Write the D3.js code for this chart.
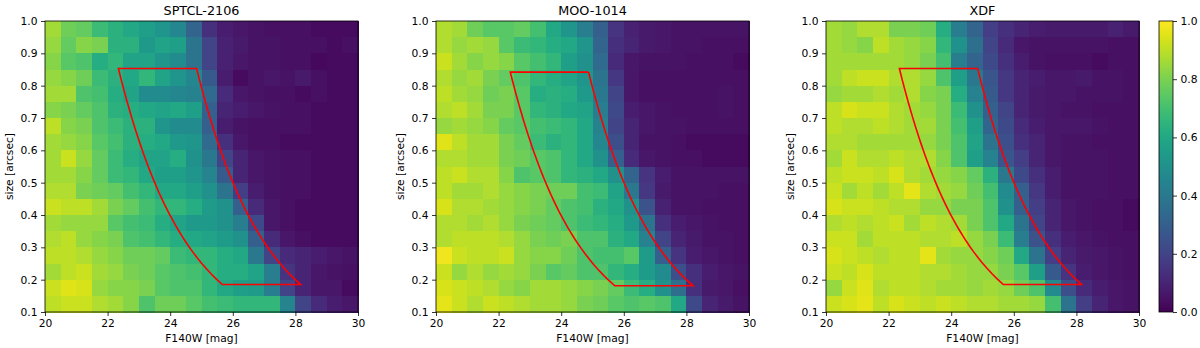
<!DOCTYPE html>
<html>
<head>
<meta charset="utf-8">
<script src="https://cdn.jsdelivr.net/npm/d3@7"></script>
<style>
body { margin: 0; background: #fff; }
svg text { font-family: "DejaVu Sans", sans-serif; fill: #000; }
.axis path { display: none; }
.axis line { stroke: #000; stroke-width: 0.8; }
.axis text { font-size: 10.7px; }
.cell { shape-rendering: crispEdges; }
</style>
</head>
<body>
<svg class="plot" width="1200" height="348"></svg>
<script>
// bin lower edges
var magBins = [20,20.5,21,21.5,22,22.5,23,23.5,24,24.5,25,25.5,26,26.5,27,27.5,28,28.5,29,29.5];
var sizeBins = [0.95,0.90,0.85,0.80,0.75,0.70,0.65,0.60,0.55,0.50,0.45,0.40,0.35,0.30,0.25,0.20,0.15,0.10];
var magStep = 0.5, sizeStep = 0.05;

var magTicks = [20,22,24,26,28,30];
var sizeTicks = [0.1,0.2,0.3,0.4,0.5,0.6,0.7,0.8,0.9,1.0];
var cbTicks = [0,0.2,0.4,0.6,0.8,1.0];

var titles = ["SPTCL-2106", "MOO-1014", "XDF"];

// completeness, rows from top (size 0.95-1.0) down to (0.10-0.15)
var sptcl = [
  [0.86,0.78,0.76,0.68,0.64,0.60,0.56,0.52,0.46,0.32,0.14,0.08,0.06,0.05,0.04,0.04,0.04,0.03,0.03,0.03],
  [0.84,0.76,0.82,0.80,0.64,0.64,0.54,0.58,0.56,0.38,0.20,0.09,0.07,0.05,0.05,0.04,0.04,0.04,0.03,0.04],
  [0.82,0.74,0.72,0.62,0.66,0.58,0.58,0.52,0.48,0.38,0.20,0.09,0.06,0.05,0.05,0.04,0.04,0.02,0.03,0.03],
  [0.84,0.82,0.78,0.68,0.64,0.60,0.66,0.58,0.52,0.46,0.28,0.08,0.03,0.05,0.06,0.05,0.07,0.04,0.03,0.03],
  [0.86,0.86,0.72,0.70,0.62,0.58,0.48,0.48,0.46,0.44,0.34,0.12,0.06,0.05,0.04,0.04,0.03,0.04,0.03,0.03],
  [0.82,0.80,0.76,0.72,0.64,0.62,0.60,0.58,0.60,0.56,0.30,0.10,0.08,0.06,0.05,0.04,0.04,0.03,0.03,0.03],
  [0.90,0.82,0.80,0.72,0.68,0.64,0.64,0.52,0.48,0.48,0.30,0.08,0.05,0.04,0.04,0.04,0.04,0.03,0.03,0.03],
  [0.86,0.84,0.82,0.74,0.70,0.64,0.62,0.60,0.54,0.52,0.34,0.14,0.06,0.04,0.04,0.03,0.03,0.03,0.03,0.03],
  [0.86,0.92,0.84,0.76,0.68,0.62,0.58,0.58,0.62,0.50,0.40,0.20,0.10,0.06,0.05,0.04,0.04,0.03,0.03,0.03],
  [0.86,0.86,0.82,0.76,0.68,0.66,0.60,0.56,0.56,0.52,0.45,0.28,0.10,0.06,0.05,0.04,0.04,0.03,0.03,0.03],
  [0.88,0.88,0.80,0.78,0.76,0.70,0.66,0.60,0.60,0.56,0.50,0.38,0.18,0.08,0.05,0.04,0.04,0.03,0.03,0.03],
  [0.92,0.90,0.90,0.86,0.80,0.76,0.70,0.66,0.66,0.62,0.55,0.50,0.30,0.12,0.06,0.04,0.03,0.03,0.03,0.03],
  [0.86,0.84,0.84,0.84,0.74,0.70,0.68,0.62,0.58,0.54,0.54,0.50,0.42,0.22,0.06,0.04,0.03,0.03,0.03,0.03],
  [0.88,0.90,0.84,0.82,0.80,0.72,0.70,0.66,0.62,0.60,0.58,0.55,0.50,0.30,0.12,0.06,0.04,0.03,0.03,0.03],
  [0.90,0.90,0.88,0.84,0.82,0.78,0.78,0.76,0.68,0.66,0.66,0.62,0.60,0.40,0.20,0.12,0.10,0.08,0.06,0.05],
  [0.86,0.90,0.92,0.86,0.84,0.80,0.78,0.74,0.72,0.70,0.66,0.62,0.62,0.58,0.42,0.15,0.10,0.06,0.05,0.04],
  [0.92,0.95,0.94,0.84,0.82,0.82,0.80,0.74,0.72,0.72,0.66,0.60,0.56,0.55,0.42,0.20,0.10,0.06,0.06,0.03],
  [0.90,0.92,0.92,0.88,0.86,0.82,0.72,0.78,0.78,0.74,0.70,0.68,0.66,0.66,0.66,0.45,0.20,0.12,0.08,0.06]
];

var moo = [
  [0.88,0.86,0.78,0.74,0.74,0.76,0.70,0.60,0.52,0.42,0.30,0.15,0.09,0.07,0.06,0.05,0.05,0.05,0.05,0.05],
  [0.88,0.84,0.86,0.84,0.74,0.68,0.66,0.62,0.60,0.52,0.32,0.14,0.10,0.07,0.06,0.05,0.05,0.04,0.04,0.04],
  [0.92,0.86,0.82,0.84,0.82,0.74,0.70,0.66,0.56,0.50,0.34,0.12,0.06,0.05,0.05,0.05,0.04,0.04,0.04,0.03],
  [0.88,0.84,0.86,0.80,0.76,0.72,0.66,0.62,0.58,0.52,0.38,0.16,0.06,0.04,0.04,0.04,0.04,0.04,0.04,0.04],
  [0.90,0.86,0.84,0.78,0.80,0.74,0.62,0.64,0.62,0.54,0.40,0.20,0.06,0.04,0.04,0.04,0.04,0.04,0.05,0.04],
  [0.88,0.90,0.86,0.80,0.80,0.74,0.66,0.64,0.60,0.58,0.42,0.22,0.08,0.06,0.05,0.04,0.04,0.04,0.05,0.04],
  [0.84,0.86,0.84,0.82,0.76,0.74,0.70,0.68,0.66,0.60,0.44,0.20,0.10,0.06,0.05,0.05,0.04,0.04,0.04,0.04],
  [0.95,0.90,0.86,0.86,0.80,0.76,0.68,0.64,0.66,0.60,0.46,0.24,0.10,0.05,0.05,0.04,0.03,0.03,0.03,0.03],
  [0.88,0.88,0.86,0.86,0.80,0.78,0.74,0.72,0.66,0.60,0.50,0.30,0.12,0.06,0.05,0.04,0.04,0.03,0.03,0.03],
  [0.90,0.92,0.88,0.88,0.82,0.72,0.74,0.72,0.66,0.64,0.60,0.50,0.32,0.15,0.08,0.05,0.05,0.05,0.05,0.05],
  [0.90,0.86,0.86,0.88,0.84,0.82,0.80,0.78,0.78,0.70,0.68,0.58,0.40,0.16,0.07,0.05,0.05,0.05,0.04,0.04],
  [0.94,0.88,0.88,0.86,0.84,0.82,0.80,0.76,0.72,0.70,0.64,0.60,0.50,0.25,0.09,0.05,0.05,0.04,0.04,0.04],
  [0.88,0.88,0.86,0.88,0.84,0.80,0.78,0.76,0.72,0.68,0.66,0.62,0.54,0.38,0.14,0.08,0.06,0.05,0.04,0.04],
  [0.88,0.90,0.90,0.90,0.88,0.84,0.80,0.78,0.80,0.72,0.72,0.64,0.60,0.44,0.20,0.10,0.07,0.05,0.05,0.04],
  [0.98,0.92,0.90,0.90,0.92,0.84,0.82,0.82,0.78,0.72,0.70,0.70,0.74,0.55,0.30,0.15,0.08,0.06,0.05,0.04],
  [0.92,0.84,0.88,0.84,0.86,0.84,0.80,0.74,0.76,0.72,0.72,0.66,0.62,0.55,0.48,0.24,0.14,0.08,0.06,0.05],
  [0.94,0.92,0.90,0.88,0.84,0.82,0.86,0.86,0.84,0.82,0.80,0.76,0.68,0.62,0.50,0.36,0.14,0.07,0.06,0.04],
  [0.96,0.92,0.88,0.92,0.90,0.88,0.86,0.86,0.84,0.80,0.78,0.74,0.72,0.74,0.72,0.60,0.22,0.10,0.07,0.05]
];

var xdf = [
  [0.86,0.84,0.88,0.88,0.80,0.80,0.78,0.62,0.42,0.32,0.18,0.14,0.10,0.08,0.07,0.07,0.07,0.07,0.09,0.07],
  [0.86,0.84,0.82,0.90,0.86,0.84,0.82,0.66,0.50,0.36,0.20,0.12,0.06,0.05,0.05,0.05,0.05,0.05,0.04,0.04],
  [0.86,0.86,0.86,0.86,0.86,0.84,0.80,0.70,0.42,0.32,0.22,0.14,0.08,0.05,0.04,0.04,0.04,0.03,0.04,0.04],
  [0.86,0.90,0.92,0.92,0.88,0.88,0.84,0.72,0.56,0.40,0.26,0.16,0.10,0.08,0.06,0.06,0.07,0.05,0.05,0.04],
  [0.84,0.86,0.86,0.88,0.86,0.88,0.82,0.80,0.62,0.44,0.28,0.16,0.10,0.07,0.06,0.06,0.05,0.05,0.05,0.04],
  [0.90,0.94,0.92,0.92,0.88,0.86,0.84,0.80,0.68,0.50,0.30,0.20,0.10,0.07,0.06,0.05,0.05,0.04,0.04,0.04],
  [0.90,0.88,0.88,0.90,0.88,0.86,0.86,0.80,0.70,0.56,0.32,0.22,0.12,0.08,0.06,0.06,0.06,0.05,0.04,0.04],
  [0.88,0.88,0.86,0.86,0.86,0.86,0.84,0.80,0.72,0.58,0.38,0.24,0.14,0.10,0.06,0.05,0.05,0.04,0.04,0.04],
  [0.86,0.92,0.88,0.88,0.90,0.88,0.88,0.82,0.72,0.56,0.44,0.26,0.18,0.10,0.06,0.05,0.05,0.05,0.04,0.04],
  [0.90,0.92,0.92,0.90,0.94,0.88,0.86,0.84,0.82,0.76,0.64,0.40,0.22,0.14,0.08,0.05,0.05,0.05,0.04,0.04],
  [0.92,0.86,0.90,0.86,0.90,0.96,0.88,0.86,0.84,0.78,0.70,0.48,0.30,0.16,0.08,0.05,0.05,0.05,0.04,0.04],
  [0.94,0.92,0.92,0.90,0.88,0.88,0.84,0.84,0.80,0.80,0.72,0.50,0.30,0.18,0.10,0.06,0.05,0.04,0.04,0.03],
  [0.88,0.90,0.88,0.90,0.92,0.86,0.90,0.88,0.86,0.80,0.72,0.60,0.38,0.20,0.10,0.06,0.05,0.04,0.04,0.03],
  [0.92,0.92,0.86,0.90,0.90,0.90,0.88,0.88,0.90,0.84,0.80,0.68,0.42,0.25,0.14,0.08,0.06,0.05,0.04,0.04],
  [0.94,0.92,0.90,0.88,0.90,0.90,0.96,0.86,0.84,0.84,0.82,0.78,0.60,0.38,0.18,0.10,0.07,0.06,0.05,0.04],
  [0.92,0.90,0.94,0.90,0.90,0.90,0.88,0.88,0.86,0.84,0.84,0.80,0.74,0.56,0.28,0.15,0.08,0.06,0.05,0.04],
  [0.84,0.92,0.95,0.88,0.90,0.90,0.88,0.86,0.86,0.84,0.86,0.84,0.78,0.72,0.48,0.24,0.12,0.08,0.06,0.05],
  [0.92,0.94,0.96,0.90,0.94,0.92,0.90,0.92,0.90,0.88,0.88,0.86,0.86,0.84,0.70,0.38,0.18,0.10,0.06,0.05]
];

var panelData = [sptcl, moo, xdf];

// selection region: mag = mu - 5 log10(size), between two mu values and a size range
var selMu = [22.0, 24.5];
var selSize = [[0.185, 0.853], [0.181, 0.842], [0.185, 0.853]];

var svg = d3.select(".plot"),
    panelLeft = [45, 436, 826],
    marginTop = 21,
    width = 313,
    height = 291;

var x = d3.scaleLinear().domain([20, 30]).range([0, width]),
    y = d3.scaleLinear().domain([0.1, 1.0]).range([height, 0]),
    color = d3.scaleSequential(d3.interpolateViridis).domain([0, 1]);

function selPath(lim) {
  var rs = d3.range(0, 41).map(function(i) { return lim[1] - (lim[1] - lim[0]) * i / 40; });
  var pts = [];
  // top edge then right curve going down
  rs.forEach(function(r) { pts.push([selMu[1] - 5 * Math.log10(r), r]); });
  // bottom edge then left curve going up
  rs.slice().reverse().forEach(function(r) { pts.push([selMu[0] - 5 * Math.log10(r), r]); });
  pts.push(pts[0]);
  return d3.line().x(function(d) { return x(d[0]); }).y(function(d) { return y(d[1]); })(pts);
}

panelData.forEach(function(data, p) {
  var g = svg.append("g")
      .attr("transform", "translate(" + panelLeft[p] + "," + marginTop + ")");

  //cells
  var cells = [];
  data.forEach(function(row, i) {
    row.forEach(function(v, j) {
      cells.push({m: magBins[j], s: sizeBins[i], v: v});
    });
  });

  g.selectAll(".cell")
      .data(cells)
      .enter()
      .append("rect")
      .attr("class", "cell")
      .attr("x", function(d) { return x(d.m); })
      .attr("y", function(d) { return y(d.s + sizeStep); })
      .attr("width", function(d) { return x(d.m + magStep) - x(d.m) + 0.5; })
      .attr("height", function(d) { return y(d.s) - y(d.s + sizeStep) + 0.5; })
      .attr("fill", function(d) { return color(d.v); });

  g.append("path")
      .attr("d", selPath(selSize[p]))
      .attr("fill", "none")
      .attr("stroke", "#ff0000")
      .attr("stroke-width", 1.6)
      .attr("stroke-linejoin", "miter");

  //axes
  g.append("g")
      .attr("class", "axis")
      .attr("transform", "translate(0," + height + ")")
      .call(d3.axisBottom(x).tickValues(magTicks).tickSize(4).tickPadding(3.5));

  g.append("g")
      .attr("class", "axis")
      .call(d3.axisLeft(y).tickValues(sizeTicks).tickFormat(d3.format(".1f")).tickSize(4).tickPadding(3.5));

  g.append("rect")
      .attr("width", width)
      .attr("height", height)
      .attr("fill", "none")
      .attr("stroke", "#000")
      .attr("stroke-width", 0.8);

  g.append("text")
      .attr("x", width / 2)
      .attr("y", -6)
      .style("font-size", "12.8px")
      .style("text-anchor", "middle")
      .text(titles[p]);

  g.append("text")
      .attr("x", width / 2)
      .attr("y", height + 30)
      .style("font-size", "10.7px")
      .style("text-anchor", "middle")
      .text("F140W [mag]");

  g.append("text")
      .attr("transform", "translate(-32," + (height / 2) + ")rotate(-90)")
      .style("font-size", "10.7px")
      .style("text-anchor", "middle")
      .text("size [arcsec]");
});

// colorbar
var cbLeft = 1159, cbWidth = 14;
var cy = d3.scaleLinear().domain([0, 1]).range([height, 0]);
var grad = svg.append("defs").append("linearGradient")
    .attr("id", "viridis")
    .attr("x1", "0%").attr("y1", "100%")
    .attr("x2", "0%").attr("y2", "0%");
grad.selectAll("stop")
    .data(d3.range(0, 1.0001, 0.05))
    .enter()
    .append("stop")
    .attr("offset", function(d) { return (d * 100) + "%"; })
    .attr("stop-color", function(d) { return color(d); });

var cb = svg.append("g")
    .attr("transform", "translate(" + cbLeft + "," + marginTop + ")");

cb.append("rect")
    .attr("width", cbWidth)
    .attr("height", height)
    .attr("fill", "url(#viridis)")
    .attr("stroke", "#000")
    .attr("stroke-width", 0.8);

cb.append("g")
    .attr("class", "axis")
    .attr("transform", "translate(" + cbWidth + ",0)")
    .call(d3.axisRight(cy).tickValues(cbTicks).tickFormat(d3.format(".1f")).tickSize(4).tickPadding(3.5));
</script>
</body>
</html>
